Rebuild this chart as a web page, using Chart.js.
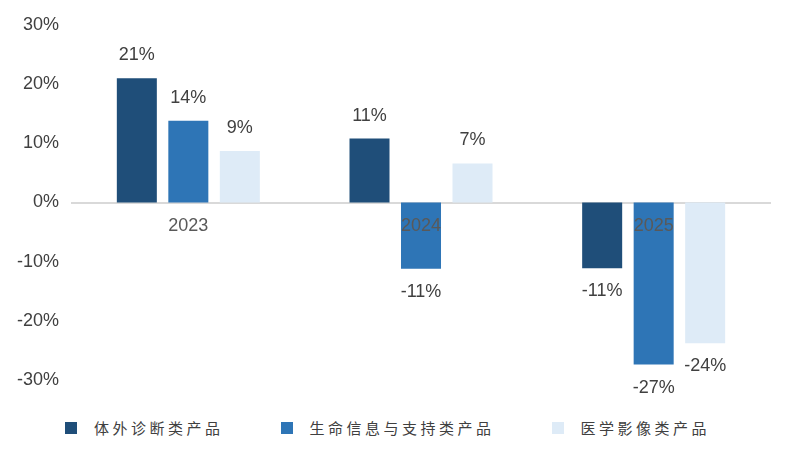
<!DOCTYPE html>
<html>
<head>
<meta charset="utf-8">
<script src="https://cdn.jsdelivr.net/npm/chart.js@4"></script>
<style>
  body { margin: 0; background: #fff; }
  #wrap { position: relative; width: 792px; height: 400px; }
  #legend {
    display: flex; align-items: center; height: 50px;
    padding-left: 65px; box-sizing: border-box; padding-top: 5px;
    font-family: "Noto Sans CJK SC", sans-serif; font-size: 15px;
    letter-spacing: 3.5px; color: #404040;
  }
  .item { display: flex; align-items: center; margin-right: 57px; }
  .box { width: 12px; height: 12px; margin-right: 17px; }
</style>
</head>
<body>
<div id="wrap"><canvas id="chart"></canvas></div>
<div id="legend"></div>
<script>
const years = ["2023", "2024", "2025"];
const seriesNames = ["体外诊断类产品", "生命信息与支持类产品", "医学影像类产品"];
const ivd = [21, 10.8, -11.1];
const lifeSupport = [13.8, -11.2, -27.4];
const imaging = [8.7, 6.6, -23.8];
const yTicks = [-30, -20, -10, 0, 10, 20, 30];
const colors = ["#1F4E79", "#2E75B6", "#DEEBF7"];

const seriesData = [ivd, lifeSupport, imaging];
const FONT = "'Liberation Sans', Arial, sans-serif";

const valueLabels = {
  id: "valueLabels",
  afterDatasetsDraw(chart) {
    const ctx = chart.ctx;
    ctx.save();
    ctx.font = "18px " + FONT;
    ctx.fillStyle = "#404040";
    ctx.textAlign = "center";
    ctx.textBaseline = "middle";
    chart.data.datasets.forEach((ds, i) => {
      chart.getDatasetMeta(i).data.forEach((bar, j) => {
        const v = ds.data[j];
        const y = v >= 0 ? bar.y - 23 : bar.y + 23;
        ctx.fillText(Math.round(v) + "%", bar.x, y);
      });
    });
    ctx.restore();
  },
};

new Chart(document.getElementById("chart"), {
  type: "bar",
  data: {
    labels: years,
    datasets: seriesNames.map((name, i) => ({
      label: name,
      data: seriesData[i],
      backgroundColor: colors[i],
      categoryPercentage: 0.664,
      barPercentage: 0.777,
    })),
  },
  options: {
    responsive: true,
    maintainAspectRatio: false,
    animation: false,
    layout: { padding: { left: 12, right: 22, top: 25, bottom: 20 } },
    plugins: { legend: { display: false }, tooltip: { enabled: false } },
    scales: {
      x: {
        position: { y: 0 },
        grid: { display: false },
        border: { display: true, color: "#D9D9D9", width: 2 },
        ticks: {
          z: 1,
          padding: 5,
          color: "#595959",
          font: { family: FONT, size: 18 },
        },
      },
      y: {
        min: -30,
        max: 30,
        afterFit(scale) { scale.width = 60; },
        afterBuildTicks(scale) { scale.ticks = yTicks.map((v) => ({ value: v })); },
        grid: { display: false },
        border: { display: false },
        ticks: {
          padding: 5,
          color: "#404040",
          font: { family: FONT, size: 18 },
          callback: (v) => v + "%",
        },
      },
    },
  },
  plugins: [valueLabels],
});

const legend = document.getElementById("legend");
seriesNames.forEach((name, i) => {
  const item = document.createElement("div");
  item.className = "item";
  const box = document.createElement("span");
  box.className = "box";
  box.style.background = colors[i];
  const txt = document.createElement("span");
  txt.textContent = name;
  item.appendChild(box);
  item.appendChild(txt);
  legend.appendChild(item);
});
</script>
</body>
</html>
